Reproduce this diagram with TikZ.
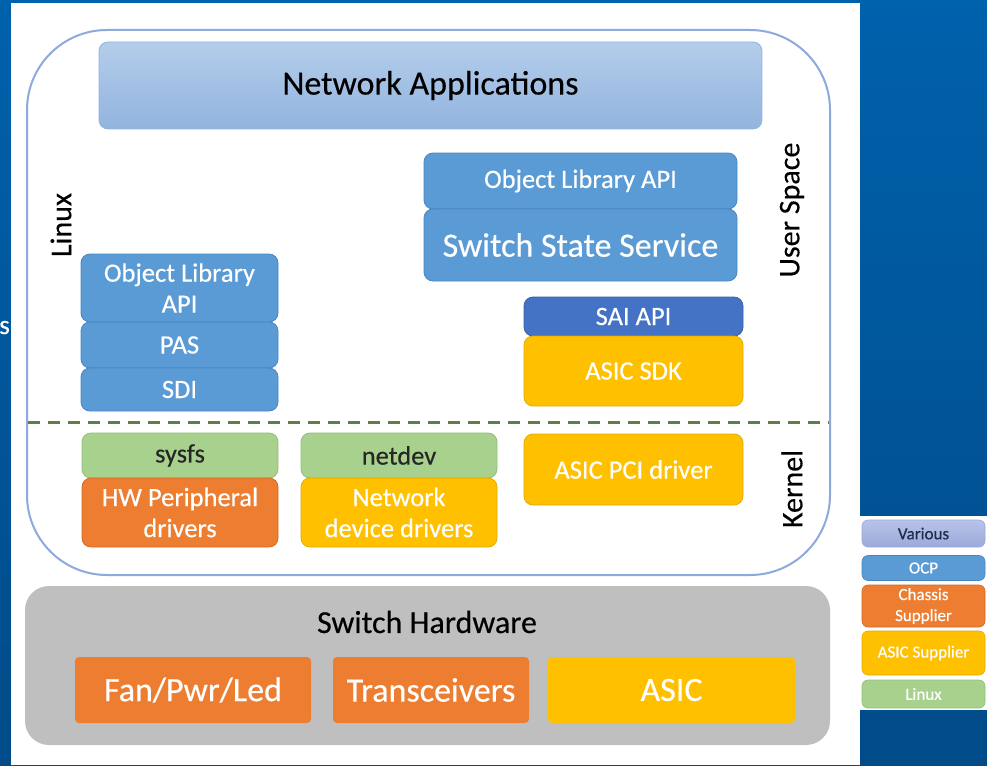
\documentclass[tikz,border=0pt]{standalone}
\usepackage{fontspec}
\setmainfont{Carlito}[FakeBold=0.35]

\definecolor{bgTop}{HTML}{0061AC}
\definecolor{bgBot}{HTML}{004B88}
\definecolor{ocpBlue}{HTML}{5B9BD5}
\definecolor{ocpEdge}{HTML}{4A86C0}
\definecolor{saiBlue}{HTML}{4472C4}
\definecolor{saiEdge}{HTML}{3A62A8}
\definecolor{chOrange}{HTML}{ED7D31}
\definecolor{chEdge}{HTML}{D06A25}
\definecolor{asYellow}{HTML}{FFC000}
\definecolor{asEdge}{HTML}{E5AC00}
\definecolor{lxGreen}{HTML}{A9D18E}
\definecolor{lxEdge}{HTML}{93BE78}
\definecolor{appTop}{HTML}{B4CDEA}
\definecolor{appBot}{HTML}{92B4DF}
\definecolor{hwGray}{HTML}{BFBFBF}
\definecolor{frameBlue}{HTML}{8EA9DB}
\definecolor{dashGreen}{HTML}{5B7F45}
\definecolor{darkText}{HTML}{262626}
\definecolor{varTop}{HTML}{B7C3E8}
\definecolor{varBot}{HTML}{9CAADB}
\definecolor{varText}{HTML}{1F2A4A}

\tikzset{
  sz/.style 2 args={minimum width=#1pt, minimum height=#2pt},
  layer/.style={draw, line width=0.8pt, rounded corners=9pt, inner sep=1pt,
    align=center, font=\fontsize{26.5}{31}\selectfont},
  ocp/.style={layer, fill=ocpBlue, draw=ocpEdge, text=white},
  sai/.style={layer, fill=saiBlue, draw=saiEdge, text=white},
  chassis/.style={layer, fill=chOrange, draw=chEdge, text=white},
  asicsup/.style={layer, fill=asYellow, draw=asEdge, text=white},
  linuxbox/.style={layer, fill=lxGreen, draw=lxEdge, text=darkText},
  hwpart/.style={rounded corners=4pt, inner sep=1pt, text=white,
    font=\fontsize{34}{38}\selectfont},
  sidelabel/.style={rotate=90, text=black, font=\fontsize{30}{34}\selectfont},
  legendbox/.style={draw, line width=0.6pt, rounded corners=6pt, inner sep=0pt,
    align=center, font=\fontsize{17}{21}\selectfont, minimum width=123pt},
}

\begin{document}
\begin{tikzpicture}[x=1pt,y=-1pt]
\useasboundingbox (0,0) rectangle (987,765);

% slide background
\shade[top color=bgTop, bottom color=bgBot] (0,0) rectangle (987,765);
\node[anchor=base east, inner sep=0pt, text=white,
      font=\fontsize{27}{30}\selectfont] (tail) at (10,334) {s};
\fill[white] (11,3) rectangle (860,765);
\fill[white] (860,516) rectangle (987,710);

% Linux frame and user/kernel split
\draw[frameBlue, line width=2pt, rounded corners=80pt] (27,30) rectangle (830,575);
\coordinate (splitL) at (28,422);
\coordinate (splitR) at (829,422);
\draw[dashGreen, line width=3pt, dash pattern=on 12pt off 8pt] (splitL) -- (splitR);

\node[sidelabel] (linuxLbl) at (61,225) {Linux};
\node[sidelabel] (userLbl) at (792,210) {User Space};
\node[sidelabel] (kernelLbl) at (792,489) {Kernel};

% user space
\node[layer, sz={663}{87}, draw=appBot, top color=appTop, bottom color=appBot,
      text=black, font=\fontsize{34}{38}\selectfont] (apps) at (430.5,85.5) {Network Applications};

\node[ocp, sz={313}{56}] (olapiR) at (580.5,181) {Object Library API};
\node[ocp, sz={313}{72}, font=\fontsize{34}{38}\selectfont] (sss) at (580.5,245) {Switch State Service};

\node[sai, sz={219}{39}] (saiapi) at (633.5,316.5) {SAI API};
\node[asicsup, sz={219}{70}] (sdk) at (633.5,371) {ASIC SDK};

\node[ocp, sz={197}{68}] (olapiL) at (179.5,288) {Object Library\\API};
\node[ocp, sz={197}{46}] (pas) at (179.5,345) {PAS};
\node[ocp, sz={197}{43}] (sdi) at (179.5,389.5) {SDI};

% kernel
\node[linuxbox, sz={196}{45}] (sysfs) at (180,455.5) {sysfs};
\node[chassis, sz={196}{69}] (hwp) at (180,512.5) {HW Peripheral\\drivers};
\node[linuxbox, sz={196}{45}] (netdev) at (399,455.5) {netdev};
\node[asicsup, sz={196}{69}] (ndd) at (399,512.5) {Network\\device drivers};
\node[asicsup, sz={219}{71}] (pci) at (633.5,469.5) {ASIC PCI driver};

% hardware
\node[fill=hwGray, rounded corners=24pt, sz={805}{159}] (hw) at (427.5,665.5) {};
\node[text=black, font=\fontsize{32}{36}\selectfont] (hwLbl) at (427,622) {Switch Hardware};
\node[hwpart, fill=chOrange, sz={236}{66}] (fan) at (193,690) {Fan/Pwr/Led};
\node[hwpart, fill=chOrange, sz={196}{66}] (trx) at (431,690) {Transceivers};
\node[hwpart, fill=asYellow, sz={247}{66}] (asic) at (671.5,690) {ASIC};

% legend
\node[legendbox, minimum height=27pt, top color=varTop, bottom color=varBot, draw=varBot,
      text=varText] (lgVar) at (923.5,533.5) {Various};
\node[legendbox, minimum height=25pt, fill=ocpBlue, draw=ocpEdge, text=white] (lgOcp) at (923.5,568) {OCP};
\node[legendbox, minimum height=42pt, fill=chOrange, draw=chEdge, text=white] (lgCh) at (923.5,606) {Chassis\\Supplier};
\node[legendbox, minimum height=44pt, fill=asYellow, draw=asEdge, text=white] (lgAs) at (923.5,653) {ASIC Supplier};
\node[legendbox, minimum height=28pt, fill=lxGreen, draw=lxEdge, text=white] (lgLx) at (923.5,694) {Linux};
\end{tikzpicture}
\end{document}
